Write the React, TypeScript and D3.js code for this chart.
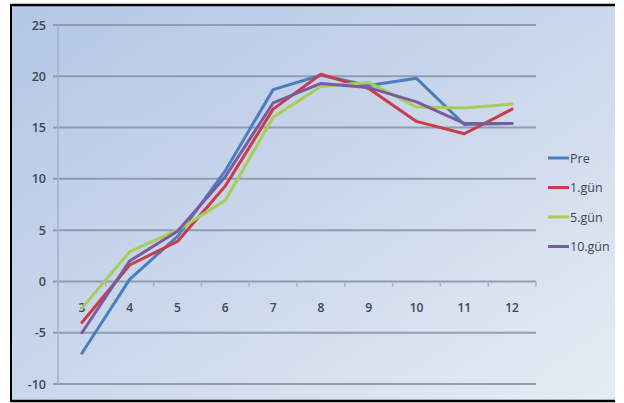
import React from "react";
import * as d3 from "d3";

// Categories along the x axis
const categories = ["3", "4", "5", "6", "7", "8", "9", "10", "11", "12"];

// Series names and values
const seriesNames = ["Pre", "1.gün", "5.gün", "10.gün"];
const preValues = [-7.0, 0.2, 4.4, 10.8, 18.7, 20.1, 19.1, 19.8, 15.3, 15.4];
const gun1Values = [-4.0, 1.6, 3.9, 9.3, 16.8, 20.2, 18.8, 15.6, 14.4, 16.8];
const gun5Values = [-2.6, 2.9, 5.0, 7.9, 16.0, 19.0, 19.4, 17.0, 16.9, 17.3];
const gun10Values = [-5.0, 2.0, 4.9, 10.2, 17.4, 19.3, 18.9, 17.5, 15.4, 15.4];

// Y axis ticks
const yTicks = [-10, -5, 0, 5, 10, 15, 20, 25];

const colors = ["#4a7fbf", "#cc3b47", "#a7cd56", "#7b5b9f"];

export default function App() {
  const W = 624;
  const H = 403;
  const plotLeft = 58;
  const plotRight = 536;
  const plotTop = 25;
  const plotBottom = 384;

  const x = d3.scaleBand<string>().domain(categories).range([plotLeft, plotRight]);
  const y = d3.scaleLinear().domain([-10, 25]).range([plotBottom, plotTop]);

  const allSeries = [preValues, gun1Values, gun5Values, gun10Values];
  const line = d3
    .line<number>()
    .x((_, i) => (x(categories[i]) as number) + x.bandwidth() / 2)
    .y((d) => y(d));

  const font = "'Open Sans', 'DejaVu Sans', sans-serif";
  const textColor = "#3b4656";
  const gridColor = "#8593a8";

  const bandEdges = categories.map((c) => x(c) as number).concat([plotRight]);

  return (
    <div style={{ position: "absolute", left: 0, top: 0 }}>
      <svg width={W} height={H} style={{ display: "block" }}>
        <defs>
          <linearGradient id="bg" x1="0" y1="0" x2="1" y2="1">
            <stop offset="0%" stopColor="#b3c7e6" />
            <stop offset="55%" stopColor="#cdd9ec" />
            <stop offset="100%" stopColor="#e6ecf4" />
          </linearGradient>
        </defs>
        <rect x={0} y={0} width={W} height={H} fill="#ffffff" />
        <rect x={11} y={5} width={604} height={396} fill="url(#bg)" />
        {/* frame */}
        <line x1={11} y1={5} x2={615} y2={5} stroke="#000" strokeWidth={2.5} />
        <line x1={11} y1={401} x2={615} y2={401} stroke="#000" strokeWidth={2.5} />
        <line x1={11} y1={4} x2={11} y2={402} stroke="#000" strokeWidth={2} />

        {/* horizontal gridlines */}
        {yTicks.map((t) => (
          <line
            key={t}
            x1={plotLeft - 5}
            x2={plotRight}
            y1={y(t)}
            y2={y(t)}
            stroke={gridColor}
            strokeWidth={2}
            opacity={0.85}
          />
        ))}
        {/* y axis line */}
        <line x1={plotLeft} x2={plotLeft} y1={plotTop} y2={plotBottom} stroke="#a3b0c2" strokeWidth={1.5} />

        {/* y tick labels */}
        {yTicks.map((t) => (
          <text
            key={t}
            x={46}
            y={y(t) + 4.5}
            textAnchor="end"
            fontFamily={font}
            fontSize={12.5}
            fontWeight={600}
            fill={textColor}
          >
            {t}
          </text>
        ))}

        {/* x axis ticks at zero line */}
        {bandEdges.map((e, i) => (
          <line key={i} x1={e} x2={e} y1={y(0)} y2={y(0) + 5} stroke="#a3b0c2" strokeWidth={1.5} />
        ))}
        {categories.map((c) => (
          <text
            key={c}
            x={(x(c) as number) + x.bandwidth() / 2}
            y={y(0) + 31}
            textAnchor="middle"
            fontFamily={font}
            fontSize={12}
            fontWeight={600}
            fill={textColor}
          >
            {c}
          </text>
        ))}

        {/* series lines */}
        {allSeries.map((vals, i) => (
          <path
            key={i}
            d={line(vals) as string}
            fill="none"
            stroke={colors[i]}
            strokeWidth={3}
            strokeLinejoin="round"
            strokeLinecap="round"
          />
        ))}

        {/* legend */}
        {seriesNames.map((n, i) => {
          const ly = 158 + i * 29.5;
          return (
            <g key={n}>
              <line x1={548} x2={569} y1={ly} y2={ly} stroke={colors[i]} strokeWidth={3} />
              <text x={570} y={ly + 4.5} fontFamily={font} fontSize={12.5} fill={textColor}>
                {n}
              </text>
            </g>
          );
        })}
      </svg>
    </div>
  );
}
